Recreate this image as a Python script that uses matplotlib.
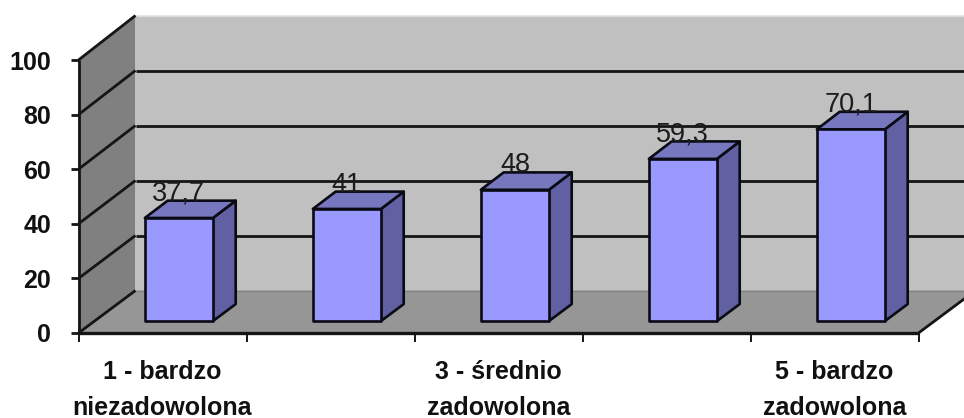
import matplotlib
matplotlib.use('Agg')
import matplotlib.pyplot as plt
from matplotlib.patches import Polygon

values = [37.7, 41, 48, 59.3, 70.1]
value_labels = ['37,7', '41', '48', '59,3', '70,1']
y_ticks = [0, 20, 40, 60, 80, 100]
cat_labels = {0: '1 - bardzo\nniezadowolona', 2: '3 - średnio\nzadowolona', 4: '5 - bardzo\nzadowolona'}

# one category is 168 px wide, one percent is 2.73 px high
cat_px = 168
val_px = 2.73
x0_px = 78.5
y0_px = 333
depth_x = 57 / cat_px
depth_y = 42.5 / val_px
back_scale = 0.0073  # back wall is very slightly taller than the front plane


def proj(x, y, d=0):
    # oblique projection, d=0 is the front plane and d=1 the back wall
    return (x + d * depth_x, y * (1 + d * back_scale) + d * depth_y)


def face(ax, pts, color, ec='none', lw=0, z=1):
    ax.add_patch(Polygon([proj(*p) for p in pts], closed=True, fc=color, ec=ec, lw=lw, zorder=z, joinstyle='round'))


def line(ax, a, b, color='#151515', lw=2.0, z=2):
    pa, pb = proj(*a), proj(*b)
    ax.plot([pa[0], pb[0]], [pa[1], pb[1]], color=color, lw=lw, zorder=z, solid_capstyle='butt')


fig = plt.figure(figsize=(9.64, 4.18), dpi=100)
ax = fig.add_axes([0, 0, 1, 1])
ax.set_xlim(-x0_px / cat_px, (964 - x0_px) / cat_px)
ax.set_ylim(-(418 - y0_px) / val_px, y0_px / val_px)
ax.axis('off')

n = len(values)
top = y_ticks[-1]

# walls and floor
face(ax, [(0, 0, 1), (n, 0, 1), (n, top, 1), (0, top, 1)], '#c0c0c0')
face(ax, [(0, 0, 0), (0, 0, 1), (0, top, 1), (0, top, 0)], '#808080')
face(ax, [(0, 0, 0), (n, 0, 0), (n, 0, 1), (0, 0, 1)], '#969696')
line(ax, (0, top, 1), (n, top, 1), color='#e4e4e4', lw=1.2)
line(ax, (0, 0, 1), (n, 0, 1), color='#858585', lw=1.0)

# gridlines run along the side wall and the back wall
for t in y_ticks:
    line(ax, (0, t, 0), (0, t, 1))
    if 0 < t < top:
        line(ax, (0, t, 1), (n, t, 1))
    line(ax, (-8 / cat_px, t, 0), (0, t, 0))
    ax.text(-27.5 / cat_px, t, str(t), ha='right', va='center_baseline', fontsize=18,
            fontweight='bold', family='Liberation Sans', color='#111111', zorder=6)

# axes
line(ax, (0, 0, 0), (0, top, 0), z=3)
line(ax, (0, 0, 0), (n, 0, 0), lw=2.4, z=3)
line(ax, (n, 0, 0), (n, 0, 1), z=3)
for i in range(n + 1):
    line(ax, (i, 0, 0), (i, -9 / val_px, 0), lw=1.4)

for i, lab in cat_labels.items():
    lines = lab.split('\n')
    ax.text(i + 0.5, -(379 - y0_px) / val_px, lines[0], ha='center', va='baseline', fontsize=18,
            fontweight='bold', family='Liberation Sans', color='#111111')
    ax.text(i + 0.5, -(415 - y0_px) / val_px, lines[1], ha='center', va='baseline', fontsize=18,
            fontweight='bold', family='Liberation Sans', color='#111111')

# bars
bar_l, bar_r = 0.30, 0.705
d_front, d_back = 0.28, 0.68
edge = '#0a0a14'
for i, v in enumerate(values):
    l, r = i + bar_l, i + bar_r
    face(ax, [(r, 0, d_front), (r, 0, d_back), (r, v, d_back), (r, v, d_front)], '#6060a2', edge, 1.9, 4)
    face(ax, [(l, v, d_front), (r, v, d_front), (r, v, d_back), (l, v, d_back)], '#7777bf', edge, 1.9, 4)
    face(ax, [(l, 0, d_front), (r, 0, d_front), (r, v, d_front), (l, v, d_front)], '#9999ff', edge, 1.9, 5)
    tx, ty = proj((l + r) / 2, v, d_back)
    ax.text((l + r) / 2 + d_front * depth_x, ty, value_labels[i], ha='center', va='baseline',
            fontsize=19.5, family='Liberation Sans', color='#1c1c1c', zorder=6)

fig.savefig('out.png', dpi=100, facecolor='white')
